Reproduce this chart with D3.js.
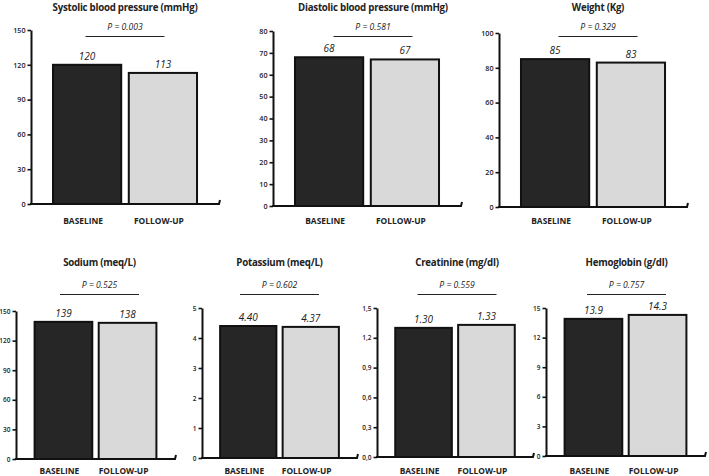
<!DOCTYPE html>
<html><head><meta charset="utf-8">
<script src="https://cdn.jsdelivr.net/npm/d3@7"></script>
<style>body{margin:0;background:#fff}svg{display:block}</style>
</head><body>
<svg id="c" width="709" height="476"></svg>
<script>
// ---- data ----
const titles = ["Systolic blood pressure (mmHg)","Diastolic blood pressure (mmHg)","Weight (Kg)","Sodium (meq/L)","Potassium (meq/L)","Creatinine (mg/dl)","Hemoglobin (g/dl)"];
const categories = ["BASELINE","FOLLOW-UP"];
const baseline = [120,68,85,139,4.40,1.30,13.9];
const followUp = [113,67,83,138,4.37,1.33,14.3];
const pValues = ["0.003","0.581","0.329","0.525","0.602","0.559","0.757"];
const yMax = [150,80,100,150,5,1.5,15];
const yTicks = [
  [0,30,60,90,120,150],
  [0,10,20,30,40,50,60,70,80],
  [0,20,40,60,80,100],
  [0,30,60,90,120,150],
  [0,1,2,3,4,5],
  [0,0.3,0.6,0.9,1.2,1.5],
  [0,3,6,9,12,15]
];
const valueDecimals = [0,0,0,0,2,2,1];
const tickLabelFormats = ["d","d","d","d","d","comma1","d"];

// ---- layout ----
const layout = [
  {x0:31,  x1:219, yT:30,  yB:204, row:0, tdx:0},
  {x0:273, x1:461, yT:31,  yB:206, row:0, tdx:6},
  {x0:499, x1:687, yT:33,  yB:207, row:0, tdx:5},
  {x0:16,  x1:175, yT:311, yB:459, row:1, tdx:4},
  {x0:202, x1:357, yT:308, yB:458, row:1, tdx:0},
  {x0:377, x1:533, yT:308, yB:457, row:1, tdx:2},
  {x0:546, x1:705, yT:308, yB:456, row:1, tdx:1}
];
const rowY = [{title:11, p:30, cat:223.5, tick:7.2},{title:266, p:288, cat:474, tick:6.5}];
const fills = ["#262626","#d9d9d9"];
const FONT = "'Open Sans', 'DejaVu Sans', sans-serif";

const svg = d3.select("#c");

layout.forEach((L, i) => {
  const g = svg.append("g");
  const vals = [baseline[i], followUp[i]];
  const x = d3.scaleBand().domain(categories).range([L.x0, L.x1]).paddingInner(0.1).paddingOuter(0.29);
  const y = d3.scaleLinear().domain([0, yMax[i]]).range([L.yB, L.yT]);
  const R = rowY[L.row];
  const tf = tickLabelFormats[i] === "comma1" ? (d => d3.format(".1f")(d).replace(".", ",")) : d3.format("d");

  // y axis
  const ax = g.append("g").attr("transform", `translate(${L.x0},0)`)
    .call(d3.axisLeft(y).tickValues(yTicks[i]).tickSize(3.5).tickSizeOuter(0).tickFormat(tf).tickPadding(2));
  ax.select(".domain").attr("stroke", "#111").attr("stroke-width", 2);
  ax.selectAll(".tick line").attr("stroke", "#111").attr("stroke-width", 1.6);
  ax.selectAll(".tick text").attr("font-family", FONT).attr("font-weight", 600).attr("font-size", R.tick).attr("fill", "#222");

  // bars
  g.selectAll("rect").data(vals).join("rect")
    .attr("x", (d, j) => x(categories[j]))
    .attr("width", x.bandwidth())
    .attr("y", d => y(d))
    .attr("height", d => y(0) - y(d))
    .attr("fill", (d, j) => fills[j])
    .attr("stroke", "#111").attr("stroke-width", 2);

  // x axis baseline with hook
  g.append("path")
    .attr("d", `M${L.x0 - 1},${y(0)} L${L.x1},${y(0)} L${L.x1 + 1},${y(0) - 4}`)
    .attr("fill", "none").attr("stroke", "#111").attr("stroke-width", 2);

  // value labels
  const fmt = d3.format("." + valueDecimals[i] + "f");
  g.selectAll("text.val").data(vals).join("text").attr("class", "val")
    .attr("x", (d, j) => x(categories[j]) + x.bandwidth() / 2)
    .attr("y", d => y(d) - 5)
    .attr("text-anchor", "middle").attr("font-family", FONT).attr("font-style", "italic")
    .attr("font-size", 10).attr("fill", "#222").text(d => fmt(d));

  // category labels
  g.selectAll("text.cat").data(categories).join("text").attr("class", "cat")
    .attr("x", d => x(d) + x.bandwidth() / 2 - 4)
    .attr("y", R.cat)
    .attr("text-anchor", "middle").attr("font-family", FONT).attr("font-weight", "bold")
    .attr("font-size", 8.4).attr("fill", "#222").text(d => d);

  const mid = (x(categories[0]) + x(categories[1]) + x.bandwidth()) / 2;

  // title
  g.append("text").attr("x", mid + L.tdx).attr("y", R.title)
    .attr("text-anchor", "middle").attr("font-family", FONT).attr("font-weight", "bold")
    .attr("font-size", 9.7).attr("letter-spacing", -0.25).attr("fill", "#222").text(titles[i]);

  // p-value
  g.append("text").attr("x", mid + L.tdx).attr("y", R.p)
    .attr("text-anchor", "middle").attr("font-family", FONT).attr("font-style", "italic")
    .attr("font-size", 8.6).attr("fill", "#222").text("P = " + pValues[i]);
  g.append("line").attr("x1", mid + L.tdx - 39.5).attr("x2", mid + L.tdx + 39.5)
    .attr("y1", R.p + 6.5).attr("y2", R.p + 6.5)
    .attr("stroke", "#222").attr("stroke-width", 1.2);
});
</script>
</body></html>
